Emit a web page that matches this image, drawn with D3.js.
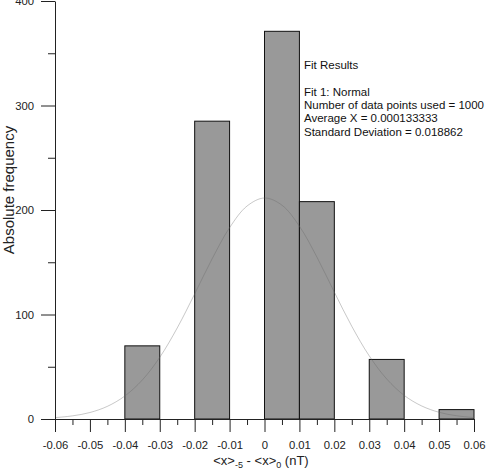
<!DOCTYPE html>
<html>
<head>
<meta charset="utf-8">
<script src="https://cdn.jsdelivr.net/npm/d3@7"></script>
<style>
  body { margin: 0; background: #fff; }
  svg { display: block; font-family: "Liberation Sans", Arial, sans-serif; }
</style>
</head>
<body>
<svg id="chart" width="490" height="470"></svg>
<script>
// histogram bins (left edge, width 0.01) and counts
const binStarts = [-0.04, -0.02, 0.00, 0.01, 0.03, 0.05];
const binCounts = [70, 285, 371, 208, 57, 9];
const binWidth = 0.01;

// fitted normal curve
const fitX = [-0.06, -0.055, -0.05, -0.045, -0.04, -0.035, -0.03, -0.025, -0.02, -0.015, -0.01, -0.005,
    0, 0.005, 0.01, 0.015, 0.02, 0.025, 0.03, 0.035, 0.04, 0.045, 0.05, 0.055, 0.06];
const fitY = [1.3, 3, 6.2, 12.1, 22, 37.3, 59, 87.1, 119.7, 153.3, 183.1, 203.8,
    211.5, 204.6, 184.5, 155, 121.4, 88.7, 60.4, 38.3, 22.6, 12.5, 6.4, 3.1, 1.4];

const xTicks = [-0.06, -0.05, -0.04, -0.03, -0.02, -0.01, 0, 0.01, 0.02, 0.03, 0.04, 0.05, 0.06];
const xMinorTicks = [-0.055, -0.045, -0.035, -0.025, -0.015, -0.005, 0.005, 0.015, 0.025, 0.035, 0.045, 0.055];
const yTicks = [0, 100, 200, 300, 400];
const yMinorTicks = [50, 150, 250, 350];

const fitLines = [
    "Fit Results",
    "",
    "Fit 1: Normal",
    "Number of data points used = 1000",
    "Average X = 0.000133333",
    "Standard Deviation = 0.018862"
];

const svg = d3.select("#chart");

const xScale = d3.scaleLinear().domain([-0.06, 0.06]).range([55, 474]);
const yScale = d3.scaleLinear().domain([0, 400]).range([419, 1]);

// bars
svg.append("g")
    .selectAll("rect")
    .data(binStarts)
    .join("rect")
    .attr("x", d => xScale(d))
    .attr("y", (d, i) => yScale(binCounts[i]))
    .attr("width", d => xScale(d + binWidth) - xScale(d))
    .attr("height", (d, i) => yScale(0) - yScale(binCounts[i]))
    .attr("fill", "#999999")
    .attr("stroke", "#111")
    .attr("stroke-width", 1);

// fit curve
const line = d3.line()
    .x((d, i) => xScale(fitX[i]))
    .y(d => yScale(d))
    .curve(d3.curveCatmullRom);

svg.append("path")
    .attr("d", line(fitY))
    .attr("fill", "none")
    .attr("stroke", "#666")
    .attr("stroke-opacity", 0.45)
    .attr("stroke-width", 0.8);

const fmt = d => String(Math.round(d * 100) / 100);

// x axis
const xAxis = d3.axisBottom(xScale)
    .tickValues(xTicks)
    .tickFormat(fmt)
    .tickSize(13)
    .tickSizeOuter(0)
    .tickPadding(9);

svg.append("g")
    .attr("transform", "translate(0," + yScale(0) + ")")
    .call(xAxis);

svg.append("g")
    .attr("transform", "translate(0," + yScale(0) + ")")
    .call(d3.axisBottom(xScale).tickValues(xMinorTicks).tickFormat("").tickSize(6).tickSizeOuter(0))
    .select(".domain").remove();

// y axis
const yAxis = d3.axisLeft(yScale)
    .tickValues(yTicks)
    .tickSize(14)
    .tickSizeOuter(0)
    .tickPadding(7);

svg.append("g")
    .attr("transform", "translate(" + xScale(-0.06) + ",0)")
    .call(yAxis);

svg.append("g")
    .attr("transform", "translate(" + xScale(-0.06) + ",0)")
    .call(d3.axisLeft(yScale).tickValues(yMinorTicks).tickFormat("").tickSize(7).tickSizeOuter(0))
    .select(".domain").remove();

svg.selectAll(".tick line, .domain").attr("stroke", "#222");
svg.selectAll(".tick text")
    .attr("fill", "#222")
    .style("font-size", "11.3px")
    .style("font-family", "'Liberation Sans', Arial, sans-serif");

// axis labels
svg.append("text")
    .attr("transform", "translate(14,190) rotate(-90)")
    .attr("text-anchor", "middle")
    .attr("fill", "#222")
    .style("font-size", "15px")
    .text("Absolute frequency");

const xl = svg.append("text")
    .attr("x", 261)
    .attr("y", 465)
    .attr("text-anchor", "middle")
    .attr("fill", "#222")
    .style("font-size", "13px");
xl.append("tspan").text("<x>");
xl.append("tspan").attr("dy", 3).style("font-size", "9px").text("-5");
xl.append("tspan").attr("dy", -3).text(" - <x>");
xl.append("tspan").attr("dy", 3).style("font-size", "9px").text("0");
xl.append("tspan").attr("dy", -3).text(" (nT)");

// fit results text
svg.append("g")
    .selectAll("text")
    .data(fitLines)
    .join("text")
    .attr("x", 304)
    .attr("y", (d, i) => 69 + i * 13.3)
    .attr("fill", "#111")
    .style("font-size", "11.5px")
    .text(d => d);
</script>
</body>
</html>
